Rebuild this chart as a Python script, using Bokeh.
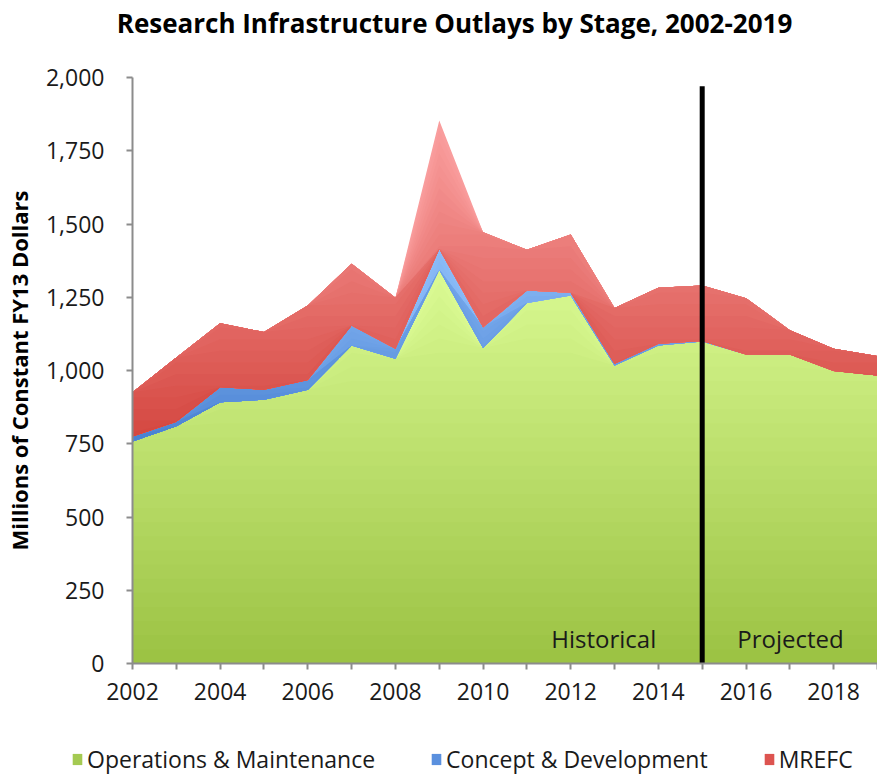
import numpy as np
from bokeh.plotting import figure
from bokeh.layouts import column
from bokeh.models import Range1d, FixedTicker, NumeralTickFormatter, Legend, LegendItem, Label
from bokeh.embed import file_html
from bokeh.resources import INLINE

# ---- data (millions of constant FY13 dollars) ----
years = [2002, 2003, 2004, 2005, 2006, 2007, 2008, 2009, 2010, 2011,
         2012, 2013, 2014, 2015, 2016, 2017, 2018, 2019]
om = [758, 810, 892, 900, 934, 1085, 1040, 1344, 1077, 1230,
      1256, 1017, 1085, 1099, 1055, 1055, 998, 983]
cd = [17, 15, 51, 34, 34, 69, 34, 71, 71, 43,
      9, 6, 6, 2, 0, 0, 0, 0]
mrefc = [151, 219, 218, 197, 254, 210, 174, 438, 324, 139,
         199, 190, 191, 189, 192, 82, 76, 66]
series_names = ["Operations & Maintenance", "Concept & Development", "MREFC"]
legend_colors = ["#a4ca52", "#5a90de", "#dd5450"]
y_ticks = [0, 250, 500, 750, 1000, 1250, 1500, 1750, 2000]
split_year = 2015
period_labels = ["Historical", "Projected"]
title_text = "Research Infrastructure Outlays by Stage, 2002-2019"
y_label = "Millions of Constant FY13 Dollars"

FONT = "Open Sans"
W = 877

x = np.array(years, dtype=float)
s1 = np.array(om, dtype=float)
s2 = s1 + np.array(cd, dtype=float)
s3 = s2 + np.array(mrefc, dtype=float)

def strip(height):
    f = figure(width=W, height=height, x_range=Range1d(0, W), y_range=Range1d(0, height),
               output_backend="svg", toolbar_location=None,
               x_axis_type=None, y_axis_type=None,
               min_border_left=0, min_border_right=0, min_border_top=0, min_border_bottom=0)
    f.outline_line_color = None
    f.xgrid.visible = False
    f.ygrid.visible = False
    f.frame_align = False
    return f

# ---- title strip ----
tf = strip(50)
tf.add_layout(Label(x=454, y=28, text=title_text, text_align="center", text_baseline="middle",
                    text_font=FONT, text_font_size="26px", text_font_style="bold", text_color="black"))

# ---- main chart ----
p = figure(width=W, height=690,
           x_range=Range1d(2002, 2019), y_range=Range1d(0, 2000),
           output_backend="svg", toolbar_location=None,
           min_border_left=131, min_border_right=0,
           min_border_top=27, min_border_bottom=77)
p.frame_align = False
p.outline_line_color = None
p.xgrid.visible = False
p.ygrid.visible = False
p.background_fill_color = "white"

def hex2rgb(h):
    h = h.lstrip("#")
    return [int(h[i:i + 2], 16) for i in (0, 2, 4)]

def lerp(c1, c2, t):
    a, b = hex2rgb(c1), hex2rgb(c2)
    return "#%02x%02x%02x" % tuple(int(round(a[i] + (b[i] - a[i]) * t)) for i in range(3))

N = 28
def gradient_layer(base, top, lo, hi, c_lo, c_hi):
    for k in range(N, 0, -1):
        cap = np.inf if k == N else lo + (hi - lo) * k / N
        y2 = np.maximum(base, np.minimum(top, cap))
        col = lerp(c_lo, c_hi, (k - 0.5) / N)
        p.varea(x=x, y1=base, y2=y2, fill_color=col, fill_alpha=1.0)

gradient_layer(np.zeros_like(s1), s1, 0, 1350, "#9bc243", "#dafa93")
gradient_layer(s1, s2, 750, 1420, "#4a82d2", "#8cbcf8")
gradient_layer(s2, s3, 750, 1860, "#d4463f", "#fa9f9f")

# divider between historical and projected
p.segment(x0=[split_year], y0=[0], x1=[split_year], y1=[1970], line_color="black", line_width=5)

p.add_layout(Label(x=split_year, y=85, x_offset=-46, text=period_labels[0], text_align="right",
                   text_baseline="middle", text_font=FONT, text_font_size="24px", text_color="#1a1a1a"))
p.add_layout(Label(x=split_year, y=85, x_offset=35, text=period_labels[1], text_align="left",
                   text_baseline="middle", text_font=FONT, text_font_size="24px", text_color="#1a1a1a"))

xa = p.xaxis[0]
xa.ticker = FixedTicker(ticks=years)
xa.major_label_overrides = {yr: (str(yr) if yr % 2 == 0 else "") for yr in years}
xa.minor_tick_line_color = None
xa.axis_line_color = "#8c8c8c"
xa.axis_line_width = 2
xa.major_tick_line_color = "#8c8c8c"
xa.major_tick_line_width = 2
xa.major_tick_in = 0
xa.major_tick_out = 6
xa.major_label_standoff = 13
xa.major_label_text_font = FONT
xa.major_label_text_font_size = "23px"
xa.major_label_text_color = "#1a1a1a"

ya = p.yaxis[0]
ya.ticker = FixedTicker(ticks=y_ticks)
ya.formatter = NumeralTickFormatter(format="0,0")
ya.minor_tick_line_color = None
ya.axis_line_color = "#8c8c8c"
ya.axis_line_width = 2
ya.major_tick_line_color = "#8c8c8c"
ya.major_tick_line_width = 2
ya.major_tick_in = 0
ya.major_tick_out = 6
ya.major_label_standoff = 22
ya.major_label_text_font = FONT
ya.major_label_text_font_size = "23px"
ya.major_label_text_color = "#1a1a1a"
ya.axis_label = y_label
ya.axis_label_text_font = FONT
ya.axis_label_text_font_style = "bold"
ya.axis_label_text_font_size = "22px"
ya.axis_label_text_color = "black"
ya.axis_label_standoff = 9

# ---- legend strip (swatch renderers lie outside its view) ----
lf = figure(width=W, height=35, x_range=Range1d(2002, 2019), y_range=Range1d(-200, -100),
            output_backend="svg", toolbar_location=None,
            x_axis_type=None, y_axis_type=None,
            min_border_left=0, min_border_right=0, min_border_top=0, min_border_bottom=0)
lf.frame_align = False
lf.outline_line_color = None
lf.xgrid.visible = False
lf.ygrid.visible = False
bases = [np.zeros_like(s1), s1, s2]
tops = [s1, s2, s3]
items = []
for name, col, lo_, hi_ in zip(series_names, legend_colors, bases, tops):
    rr = lf.varea(x=x, y1=lo_, y2=hi_, fill_color=col)
    items.append(LegendItem(label=name, renderers=[rr]))
legend = Legend(items=items, orientation="horizontal", location=(71, 0))
legend.label_text_font = FONT
legend.label_text_font_size = "23px"
legend.label_text_color = "#1a1a1a"
legend.glyph_width = 12
legend.glyph_height = 14
legend.label_standoff = 4
legend.spacing = 55
legend.padding = 2
legend.margin = 0
legend.border_line_color = None
legend.background_fill_alpha = 0
lf.add_layout(legend)

layout = column(tf, p, lf, spacing=0)
open("out.html", "w").write(file_html(layout, INLINE))
